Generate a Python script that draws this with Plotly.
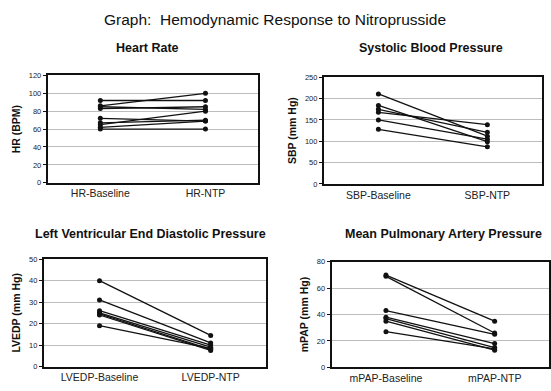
import plotly.graph_objects as go

# Per-patient values, baseline vs. during nitroprusside infusion
hr_labels = ["HR-Baseline", "HR-NTP"]
hr_baseline = [92, 86, 85, 83, 72, 67, 65, 62, 60]
hr_ntp = [92, 100, 82, 85, 69, 70, 80, 69, 60]

sbp_labels = ["SBP-Baseline", "SBP-NTP"]
sbp_baseline = [211, 184, 175, 168, 150, 128]
sbp_ntp = [112, 99, 121, 139, 105, 87]

lvedp_labels = ["LVEDP-Baseline", "LVEDP-NTP"]
lvedp_baseline = [40, 31, 26, 25, 24.5, 24, 19]
lvedp_ntp = [14.5, 11, 10, 9, 8, 7.5, 8.5]

mpap_labels = ["mPAP-Baseline", "mPAP-NTP"]
mpap_baseline = [70, 69, 43, 38, 37, 35, 27]
mpap_ntp = [35, 26, 25, 18, 15, 13, 14]

FONT = "Liberation Sans, Arial"

panels = [
    dict(labels=hr_labels, base=hr_baseline, ntp=hr_ntp, title="Heart Rate",
         ytitle="HR (BPM)", yrange=[0, 120], dtick=20,
         xdom=[0.087, 0.470], ydom=[0.532, 0.813], tx=0.268, ty=0.886),
    dict(labels=sbp_labels, base=sbp_baseline, ntp=sbp_ntp, title="Systolic Blood Pressure",
         ytitle="SBP (mm Hg)", yrange=[0, 250], dtick=50,
         xdom=[0.590, 0.987], ydom=[0.529, 0.808], tx=0.785, ty=0.886),
    dict(labels=lvedp_labels, base=lvedp_baseline, ntp=lvedp_ntp,
         title="Left Ventricular End Diastolic Pressure",
         ytitle="LVEDP (mm Hg)", yrange=[0, 50], dtick=10,
         xdom=[0.080, 0.485], ydom=[0.051, 0.332], tx=0.275, ty=0.398),
    dict(labels=mpap_labels, base=mpap_baseline, ntp=mpap_ntp, title="Mean Pulmonary Artery Pressure",
         ytitle="mPAP (mm Hg)", yrange=[0, 80], dtick=20,
         xdom=[0.604, 1.0], ydom=[0.049, 0.325], tx=0.807, ty=0.398),
]

fig = go.Figure()
annotations = [dict(text="Graph:  Hemodynamic Response to Nitroprusside", x=0.5, y=0.96,
                    xref="paper", yref="paper", showarrow=False,
                    xanchor="center", yanchor="middle",
                    font=dict(family=FONT, size=15.5, color="#111"))]

for i, p in enumerate(panels, start=1):
    xa = "x" if i == 1 else f"x{i}"
    ya = "y" if i == 1 else f"y{i}"
    for b, n in zip(p["base"], p["ntp"]):
        fig.add_trace(go.Scatter(
            x=p["labels"], y=[b, n], xaxis=xa, yaxis=ya, mode="lines+markers",
            line=dict(color="#111", width=1.3), marker=dict(color="#111", size=5),
            showlegend=False, hoverinfo="y"))
    xkey = "xaxis" if i == 1 else f"xaxis{i}"
    ykey = "yaxis" if i == 1 else f"yaxis{i}"
    fig.layout[xkey] = dict(domain=p["xdom"], anchor=ya, type="category", range=[-0.5, 1.5],
                            showline=True, linecolor="#111", linewidth=2, mirror=True,
                            showgrid=False, ticks="",
                            tickfont=dict(size=10.5, color="#222", family=FONT))
    fig.layout[ykey] = dict(domain=p["ydom"], anchor=xa, range=p["yrange"], dtick=p["dtick"],
                            showline=True, linecolor="#111", linewidth=2, mirror=True,
                            showgrid=True, gridcolor="#bdbdbd", gridwidth=1, zeroline=False,
                            ticks="outside", ticklen=3, tickcolor="#111",
                            tickfont=dict(size=7.5, color="#222", family=FONT),
                            title=dict(text=f"<b>{p['ytitle']}</b>", standoff=6,
                                       font=dict(size=10.5, color="#111", family=FONT)))
    annotations.append(dict(text=f"<b>{p['title']}</b>", x=p["tx"], y=p["ty"],
                            xref="paper", yref="paper", showarrow=False,
                            xanchor="center", yanchor="middle",
                            font=dict(family=FONT, size=12.5, color="#111")))

fig.update_layout(width=551, height=391, margin=dict(l=0, r=0, t=0, b=0),
                  paper_bgcolor="white", plot_bgcolor="white", annotations=annotations)
fig.write_html("out.html")
